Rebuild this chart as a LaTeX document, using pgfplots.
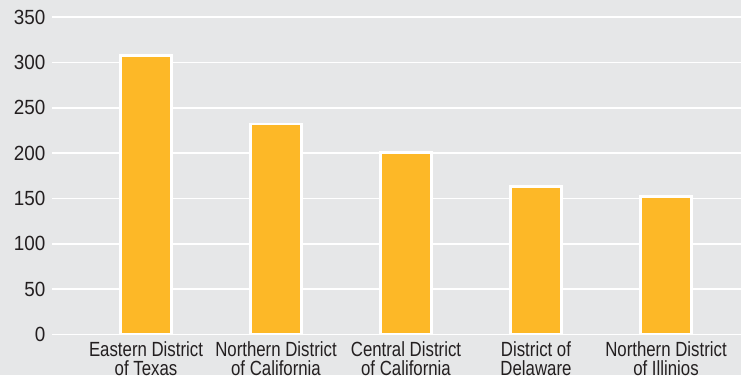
\documentclass[border=0pt]{standalone}
\usepackage{fontspec}
\setmainfont{Liberation Sans}[FakeStretch=0.82]
\newfontfamily\tickfont{Liberation Sans}[FakeStretch=0.92]
\usepackage{pgfplots}
\pgfplotsset{compat=1.18}
\definecolor{bg}{HTML}{E6E7E8}
\definecolor{barc}{HTML}{FDB827}
\definecolor{txt}{HTML}{231F20}
\begin{document}
\begin{tikzpicture}
\fill[bg] (-52pt,-40.5pt) rectangle (689pt,334.5pt);
\begin{axis}[
  at={(0,0)}, anchor=south west,
  scale only axis, width=689pt, height=334.5pt,
  xmin=-0.7231, xmax=4.577, ymin=0, ymax=369,
  axis line style={draw=none}, tick style={draw=none},
  ytick={0,50,...,350},
  ymajorgrids, grid style={white, line width=1.8pt},
  xtick={0,1,2,3,4},
  xticklabels={{Eastern District\\of Texas},{Northern District\\of California},{Central District\\of California},{District of\\Delaware},{Northern District\\of Illinios}},
  xticklabel style={align=center, font=\fontsize{20.5}{18.5}\selectfont, text=txt, yshift=-4pt},
  yticklabel style={font=\tickfont\fontsize{20.5}{20}\selectfont, text=txt, xshift=-3pt},
  /pgf/number format/assume math mode=true,
]
\addplot[ybar, bar width=0.396, fill=barc, draw=white, line width=2.5pt] coordinates {(0,308) (1,232) (2,201) (3,163) (4,152)};
\end{axis}
\pgfresetboundingbox
\useasboundingbox (-52pt,-40.5pt) rectangle (689pt,334.5pt);
\end{tikzpicture}
\end{document}
